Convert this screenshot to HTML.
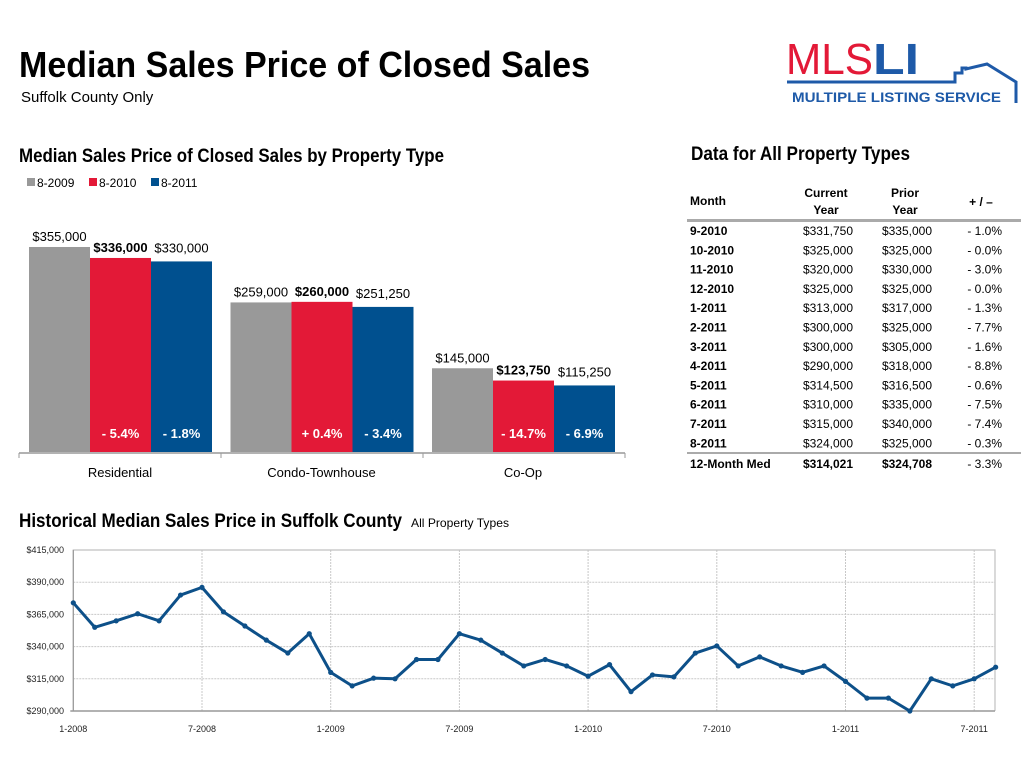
<!DOCTYPE html>
<html><head><meta charset="utf-8"><style>
html,body{margin:0;padding:0;background:#fff;}
svg{display:block;font-family:"Liberation Sans",sans-serif;}
</style></head><body>
<svg id="page" width="1035" height="759" viewBox="0 0 1035 759">
<text x="19" y="77" font-size="36" font-weight="bold" textLength="571" lengthAdjust="spacingAndGlyphs" fill="#000">Median Sales Price of Closed Sales</text>
<text x="21" y="102" font-size="15" fill="#000">Suffolk County Only</text>
<g>
<text x="786" y="74" font-size="44" fill="#e31937" textLength="87" lengthAdjust="spacingAndGlyphs">MLS</text>
<text x="873" y="74" font-size="44" font-weight="bold" fill="#1e5aa8" textLength="46" lengthAdjust="spacingAndGlyphs">LI</text>
<polyline points="787,82 955,82 955,73 962,73 962,68 966,68 966,69 987,64 1016,82 1016,103" fill="none" stroke="#1e5aa8" stroke-width="3"/>
<text x="792" y="102" font-size="14" font-weight="bold" fill="#1e5aa8" textLength="209" lengthAdjust="spacingAndGlyphs">MULTIPLE LISTING SERVICE</text>
</g>
<text x="19" y="162" font-size="19" font-weight="bold" textLength="425" lengthAdjust="spacingAndGlyphs">Median Sales Price of Closed Sales by Property Type</text>
<g id="bars"></g>
<text x="691" y="160" font-size="19" font-weight="bold" textLength="219" lengthAdjust="spacingAndGlyphs">Data for All Property Types</text>
<g id="table"></g>
<text x="19" y="527" font-size="19" font-weight="bold" textLength="383" lengthAdjust="spacingAndGlyphs">Historical Median Sales Price in Suffolk County</text>
<text x="411" y="527" font-size="12" textLength="98" lengthAdjust="spacingAndGlyphs">All Property Types</text>
<g id="line"></g>
</svg>
<script>
const barCategories = ["Residential","Condo-Townhouse","Co-Op"];
const barSeriesNames = ["8-2009","8-2010","8-2011"];
const barValues2009 = [355000,259000,145000];
const barValues2010 = [336000,260000,123750];
const barValues2011 = [330000,251250,115250];
const barChange2010 = ["- 5.4%","+ 0.4%","- 14.7%"];
const barChange2011 = ["- 1.8%","- 3.4%","- 6.9%"];

const tableMonths = ["9-2010","10-2010","11-2010","12-2010","1-2011","2-2011","3-2011","4-2011","5-2011","6-2011","7-2011","8-2011"];
const tableCurrent = ["$331,750","$325,000","$320,000","$325,000","$313,000","$300,000","$300,000","$290,000","$314,500","$310,000","$315,000","$324,000"];
const tablePrior = ["$335,000","$325,000","$330,000","$325,000","$317,000","$325,000","$305,000","$318,000","$316,500","$335,000","$340,000","$325,000"];
const tableChange = ["- 1.0%","- 0.0%","- 3.0%","- 0.0%","- 1.3%","- 7.7%","- 1.6%","- 8.8%","- 0.6%","- 7.5%","- 7.4%","- 0.3%"];
const tableSummary = ["12-Month Med","$314,021","$324,708","- 3.3%"];

const lineValues = [374,355,360,365.5,360,380,386,367,356,345,335,350,
  320,309.5,315.5,315,330,330,350,345,335,325,330,325,
  317,326,305,318,316.5,335,340.5,325,332,325,320,325,
  313,300,300,290,315,309.5,315,324];
const lineYTicks = [290000,315000,340000,365000,390000,415000];
const lineXTickIdx = [0,6,12,18,24,30,36,42];
const lineXTickLabels = ["1-2008","7-2008","1-2009","7-2009","1-2010","7-2010","1-2011","7-2011"];

const NS="http://www.w3.org/2000/svg";
function mk(parent,tag,attrs,txt){const e=document.createElementNS(NS,tag);for(const k in attrs)e.setAttribute(k,attrs[k]);if(txt!==undefined)e.textContent=txt;parent.appendChild(e);return e;}
const colors=["#999999","#e31937","#00508f"];

// bar chart
const bars=document.getElementById('bars');
const base=452, scaleB=0.5775/1000;
const by=v=>base-v*scaleB;
const bx=(g,s)=>29+g*201.5+s*61;
// legend
barSeriesNames.forEach((n,i)=>{
  const lx=27+i*62;
  const r=mk(bars,'rect',{x:lx,y:178,width:8,height:8,fill:colors[i]});
  
  
  const t=mk(bars,'text',{x:lx+10,y:187,'font-size':12},n);
  
  
});
const allVals=[barValues2009,barValues2010,barValues2011];
barCategories.forEach((c,g)=>{
  allVals.forEach((arr,s)=>{
    const v=arr[g];
    const r=mk(bars,'rect',{x:bx(g,s),y:by(v),width:61,height:v*scaleB,fill:colors[s]});
    
    
    const t=mk(bars,'text',{x:bx(g,s)+30.5,y:by(v)-(s==2?9:6),'font-size':13,'text-anchor':'middle','font-weight':s==1?'bold':'normal'},'$'+v.toLocaleString('en-US'));
    
    
  });
  [barChange2010,barChange2011].forEach((arr,k)=>{
    const t=mk(bars,'text',{x:bx(g,k+1)+30.5,y:438,'font-size':13,'font-weight':'bold',fill:'#fff','text-anchor':'middle'},arr[g]);
    
    
  });
  const t=mk(bars,'text',{x:120+g*201.5,y:477,'font-size':13,'text-anchor':'middle'},c);
  
  
});
const ax=mk(bars,'line',{x1:19,x2:625,y1:453,y2:453,stroke:'#999','stroke-width':1.5});


[19,221,423,625].forEach(x=>mk(bars,'line',{x1:x,x2:x,y1:453,y2:458,stroke:'#999'}));

// table
const tb=document.getElementById('table');
mk(tb,'text',{x:690,y:205,'font-size':12,'font-weight':'bold'},'Month');
mk(tb,'text',{x:826,y:197,'font-size':12,'font-weight':'bold','text-anchor':'middle'},'Current');
mk(tb,'text',{x:826,y:214,'font-size':12,'font-weight':'bold','text-anchor':'middle'},'Year');
mk(tb,'text',{x:905,y:197,'font-size':12,'font-weight':'bold','text-anchor':'middle'},'Prior');
mk(tb,'text',{x:905,y:214,'font-size':12,'font-weight':'bold','text-anchor':'middle'},'Year');
mk(tb,'text',{x:981,y:206,'font-size':12,'font-weight':'bold','text-anchor':'middle'},'+ / –');
mk(tb,'rect',{x:687,y:219,width:334,height:3,fill:'#aaa'});
tableMonths.forEach((m,i)=>{
  const y=235+i*19.3;
  const row=mk(tb,'g',{});
  
  
  mk(row,'text',{x:690,y:y,'font-size':12,'font-weight':'bold'},m);
  mk(row,'text',{x:853,y:y,'font-size':12,'text-anchor':'end'},tableCurrent[i]);
  mk(row,'text',{x:932,y:y,'font-size':12,'text-anchor':'end'},tablePrior[i]);
  mk(row,'text',{x:1002,y:y,'font-size':12,'text-anchor':'end'},tableChange[i]);
});
mk(tb,'rect',{x:687,y:452,width:334,height:2,fill:'#aaa'});
mk(tb,'text',{x:690,y:468,'font-size':12,'font-weight':'bold'},tableSummary[0]);
mk(tb,'text',{x:853,y:468,'font-size':12,'font-weight':'bold','text-anchor':'end'},tableSummary[1]);
mk(tb,'text',{x:932,y:468,'font-size':12,'font-weight':'bold','text-anchor':'end'},tableSummary[2]);
mk(tb,'text',{x:1002,y:468,'font-size':12,'text-anchor':'end'},tableSummary[3]);

// line chart
const ln=document.getElementById('line');
const x0=73.3,dx=21.45,yTop=550,yBot=711,vMin=290000,vMax=415000;
const lx=i=>x0+i*dx;
const ly=v=>yBot-(v-vMin)/(vMax-vMin)*(yBot-yTop);
lineYTicks.forEach(v=>{
  const y=ly(v);
  if(v!==vMin) mk(ln,'line',{x1:x0,x2:995,y1:y,y2:y,stroke:'#c8c8c8','stroke-dasharray':'2,1'});
  const t=mk(ln,'text',{x:64,y:y+3,'font-size':9,'text-anchor':'end',fill:'#222'},'$'+v.toLocaleString('en-US'));
  
  
});
lineXTickIdx.forEach((idx,k)=>{
  const x=lx(idx);
  if(idx>0) mk(ln,'line',{x1:x,x2:x,y1:yTop,y2:yBot,stroke:'#c8c8c8','stroke-dasharray':'2,1'});
  const t=mk(ln,'text',{x:x,y:732,'font-size':9,'text-anchor':'middle',fill:'#222'},lineXTickLabels[k]);
  
  
});
mk(ln,'polyline',{points:`${x0},${yBot} ${x0},${yTop} 995,${yTop} 995,${yBot}`,fill:'none',stroke:'#c0c0c0','stroke-width':1.2});
mk(ln,'line',{x1:x0-3,x2:995,y1:yBot,y2:yBot,stroke:'#999','stroke-width':1.5});
mk(ln,'line',{x1:x0,x2:x0,y1:yTop,y2:yBot,stroke:'#999','stroke-width':1.2});
const pts=lineValues.map((v,i)=>lx(i)+','+ly(v*1000)).join(' ');
const pl=mk(ln,'polyline',{points:pts,fill:'none',stroke:'#0d5089','stroke-width':3,'stroke-linejoin':'round'});


lineValues.forEach((v,i)=>{
  const c=mk(ln,'circle',{cx:lx(i),cy:ly(v*1000),r:2.6,fill:'#0d5089'});
  
  
});
</script>
</body></html>
